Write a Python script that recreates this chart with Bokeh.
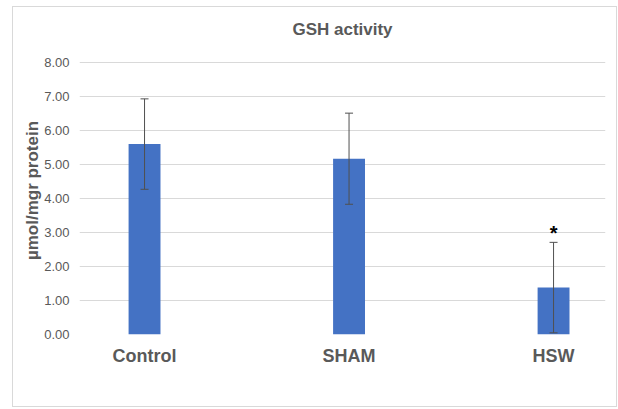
from bokeh.plotting import figure
from bokeh.models import Range1d, FixedTicker, Whisker, ColumnDataSource, TeeHead, NumeralTickFormatter, Title
from bokeh.core.properties import value
from bokeh.embed import file_html
from bokeh.resources import INLINE

title_text = "GSH activity"
y_label = "µmol/mgr protein"
categories = ["Control", "SHAM", "HSW"]
means = [5.60, 5.17, 1.38]
sds = [1.33, 1.34, 1.33]
significance = ["", "", "*"]
y_ticks = [0, 1, 2, 3, 4, 5, 6, 7, 8]

xs = list(range(len(categories)))
upper = [m + s for m, s in zip(means, sds)]
lower = [m - s for m, s in zip(means, sds)]
src = ColumnDataSource(dict(x=xs, top=means, upper=upper, lower=lower, sig=significance))

FONT = "Liberation Sans"
GRAY = "#595959"

# frame extends a little above the top gridline (8.00), as in the reference
x_range = Range1d(-0.318, 2.254)
y_range = Range1d(0, 8.47)
p = figure(width=605, height=401, output_backend="svg", toolbar_location=None,
           x_range=x_range, y_range=y_range, title=title_text,
           min_border_left=66, min_border_right=13, min_border_top=39, min_border_bottom=74)
p.styles = {"border": "1px solid #d9d9d9", "margin": "6px 0px 0px 12px"}
p.outline_line_color = None
p.background_fill_color = "white"
p.border_fill_color = "white"

p.title.align = "center"
p.title.offset = -35
p.title.text_font = FONT
p.title.text_font_size = "17px"
p.title.text_font_style = "bold"
p.title.text_color = GRAY
p.title.standoff = 16

ylab = Title(text=y_label, align="center", offset=-26, standoff=0,
             text_font=FONT, text_font_size="17px", text_font_style="bold", text_color=GRAY)
p.add_layout(ylab, "left")

p.vbar(x="x", top="top", width=0.156, source=src, fill_color="#4472C4", line_color=None)

w = Whisker(base="x", upper="upper", lower="lower", source=src, level="overlay",
            line_color="#505050", line_width=1,
            upper_head=TeeHead(size=8, line_color="#505050", line_width=1),
            lower_head=TeeHead(size=8, line_color="#505050", line_width=1))
p.add_layout(w)

p.text(x="x", y="upper", text="sig", source=src, text_align="center", text_baseline="alphabetic",
       y_offset=-9,
       text_font=value(FONT), text_font_size="20px", text_font_style="bold", text_color="black")

p.xaxis.ticker = FixedTicker(ticks=xs)
p.xaxis.major_label_overrides = {i: c for i, c in enumerate(categories)}
p.xaxis.major_label_text_font = FONT
p.xaxis.major_label_text_font_size = "18px"
p.xaxis.major_label_text_font_style = "bold"
p.xaxis.major_label_text_color = GRAY
p.xaxis.major_label_standoff = 5
p.xaxis.axis_line_color = None
p.xaxis.major_tick_line_color = None
p.xaxis.minor_tick_line_color = None
p.xgrid.grid_line_color = None

p.yaxis.ticker = FixedTicker(ticks=y_ticks)
p.yaxis.formatter = NumeralTickFormatter(format="0.00")
p.yaxis.major_label_text_font = FONT
p.yaxis.major_label_text_font_size = "13px"
p.yaxis.major_label_text_color = GRAY
p.yaxis.major_label_standoff = 10
p.yaxis.axis_line_color = None
p.yaxis.major_tick_line_color = None
p.yaxis.minor_tick_line_color = None
p.yaxis.major_tick_out = 0
p.yaxis.major_tick_in = 0
p.ygrid.grid_line_color = "#d9d9d9"
p.ygrid.ticker = FixedTicker(ticks=y_ticks)

open("out.html", "w").write(file_html(p, INLINE))
